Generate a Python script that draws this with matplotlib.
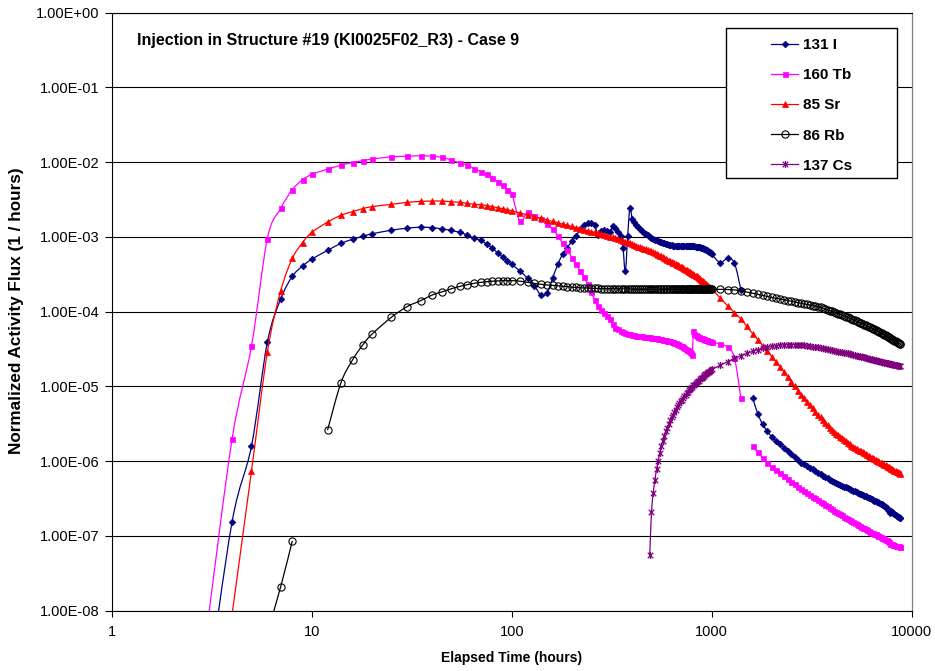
import numpy as np
import matplotlib
matplotlib.use("Agg")
import matplotlib.pyplot as plt
from matplotlib.path import Path
from matplotlib.patches import Rectangle, PathPatch
from matplotlib.lines import Line2D

plt.rcParams["font.family"] = ["Liberation Sans", "DejaVu Sans"]

nan = float("nan")

# Sampling schedule of the transport run (hours)
hours = (list(range(1, 11)) + list(range(12, 21, 2)) + list(range(25, 101, 5))
         + list(range(110, 1001, 10)) + list(range(1100, 8701, 100)) + [8760])

# ---- 131 I -------------------------------------------------------------
i131_early = [nan, nan, 8e-10, 1.55e-7, 1.6e-6, 3.9e-5, 1.48e-4, 2.97e-4, 4.07e-4, 5.04e-4,
              6.6e-4, 8.2e-4, 9.3e-4, 1.02e-3, 1.10e-3,
              1.23e-3, 1.31e-3, 1.35e-3, 1.33e-3, 1.28e-3, 1.22e-3, 1.15e-3, 1.06e-3, 9.6e-4, 9.0e-4,
              8.0e-4, 7.1e-4, 6.1e-4, 5.4e-4, 4.8e-4, 4.3e-4]
i131_mid = [3.5e-4, 2.8e-4, 2.22e-4, 1.67e-4, 1.77e-4, 2.8e-4, 4.3e-4, 5.9e-4, 7.2e-4, 8.85e-4,
            1.03e-3, 1.27e-3, 1.45e-3, 1.52e-3, 1.52e-3, 1.45e-3, 1.06e-3, 1.2e-3, 1.24e-3, 1.2e-3,
            1.17e-3, 1.38e-3, 1.3e-3, 1.15e-3, 1.03e-3, 7.2e-4, 3.46e-4, 1.03e-3, 2.45e-3, 1.76e-3,
            1.58e-3, 1.45e-3, 1.35e-3, 1.27e-3, 1.2e-3, 1.14e-3, 1.09e-3, 1.05e-3, 1.01e-3, 9.8e-4,
            9.5e-4, 9.2e-4, 9.0e-4, 8.8e-4, 8.6e-4, 8.45e-4, 8.3e-4, 8.2e-4, 8.1e-4, 8.0e-4,
            7.9e-4, 7.82e-4, 7.75e-4, 7.68e-4, 7.62e-4, 7.57e-4, 7.53e-4, 7.5e-4, 7.48e-4, 7.47e-4,
            7.47e-4, 7.48e-4, 7.5e-4, 7.52e-4, 7.54e-4, 7.55e-4, 7.56e-4, 7.56e-4, 7.55e-4, 7.53e-4,
            7.5e-4, 7.47e-4, 7.44e-4, 7.4e-4, 7.35e-4, 7.3e-4, 7.25e-4, 7.2e-4, 7.15e-4, 7.1e-4,
            7.0e-4, 6.9e-4, 6.8e-4, 6.7e-4, 6.6e-4, 6.5e-4, 6.35e-4, 6.2e-4, 6.05e-4, 5.9e-4]
i131_late = [4.55e-4, 5.15e-4, 4.45e-4, 1.96e-4, nan, 7.1e-6, 4.3e-6, 3.1e-6, 2.5e-6, 2.11e-6,
             1.88e-6, 1.69e-6, 1.51e-6, 1.37e-6, 1.24e-6, 1.13e-6, 1.04e-6, 9.6e-7, 9.1e-7, 8.6e-7,
             8.15e-7, 7.75e-7, 7.4e-7, 7.0e-7, 6.7e-7, 6.4e-7, 6.15e-7, 5.9e-7, 5.65e-7, 5.4e-7,
             5.24e-7, 5.09e-7, 4.95e-7, 4.81e-7, 4.69e-7, 4.56e-7, 4.45e-7, 4.34e-7, 4.23e-7, 4.13e-7,
             4.03e-7, 3.94e-7, 3.85e-7, 3.77e-7, 3.68e-7, 3.6e-7, 3.53e-7, 3.46e-7, 3.39e-7, 3.32e-7,
             3.24e-7, 3.18e-7, 3.1e-7, 3.04e-7, 2.98e-7, 2.92e-7, 2.86e-7, 2.81e-7, 2.75e-7, 2.7e-7,
             2.64e-7, 2.59e-7, 2.51e-7, 2.43e-7, 2.34e-7, 2.25e-7, 2.15e-7, 2.04e-7, 2.14e-7, 2.07e-7,
             2.0e-7, 1.95e-7, 1.9e-7, 1.86e-7, 1.82e-7, 1.78e-7, 1.75e-7, 1.73e-7]

# ---- 160 Tb ------------------------------------------------------------
tb160_early = [nan, nan, 6e-9, 2.0e-6, 3.46e-5, 9.5e-4, 2.41e-3, 4.28e-3, 5.82e-3, 6.85e-3,
               8.07e-3, 9.1e-3, 9.9e-3, 1.05e-2, 1.10e-2,
               1.18e-2, 1.20e-2, 1.22e-2, 1.20e-2, 1.16e-2, 1.06e-2, 9.8e-3, 9.1e-3, 8.2e-3, 7.5e-3,
               6.9e-3, 6.2e-3, 5.5e-3, 4.9e-3, 4.3e-3, 3.8e-3]
tb160_mid = [1.63e-3, 2.15e-3, 1.9e-3, 1.72e-3, 1.51e-3, 1.27e-3, 1.03e-3, 8.2e-4, 6.65e-4, 5.3e-4,
             4.3e-4, 3.5e-4, 2.9e-4, 2.34e-4, 1.85e-4, 1.45e-4, 1.18e-4, 1.05e-4, 9.6e-5, 8.8e-5,
             7.9e-5, 6.8e-5, 6.1e-5, 5.8e-5, 5.55e-5, 5.35e-5, 5.2e-5, 5.08e-5, 4.98e-5, 4.9e-5,
             4.84e-5, 4.79e-5, 4.74e-5, 4.7e-5, 4.66e-5, 4.62e-5, 4.59e-5, 4.56e-5, 4.53e-5, 4.5e-5,
             4.46e-5, 4.43e-5, 4.39e-5, 4.35e-5, 4.31e-5, 4.27e-5, 4.23e-5, 4.18e-5, 4.14e-5, 4.1e-5,
             4.05e-5, 4.0e-5, 3.95e-5, 3.9e-5, 3.85e-5, 3.8e-5, 3.74e-5, 3.68e-5, 3.6e-5, 3.52e-5,
             3.44e-5, 3.36e-5, 3.28e-5, 3.2e-5, 3.12e-5, 3.04e-5, 2.95e-5, 2.86e-5, 2.76e-5, 2.65e-5,
             5.6e-5, 5.1e-5, 4.85e-5, 4.7e-5, 4.6e-5, 4.52e-5, 4.46e-5, 4.42e-5, 4.38e-5, 4.34e-5,
             4.3e-5, 4.26e-5, 4.22e-5, 4.18e-5, 4.14e-5, 4.1e-5, 4.06e-5, 4.02e-5, 3.98e-5, 3.94e-5]
tb160_late = [3.7e-5, 3.35e-5, 2.4e-5, 6.9e-6, nan, 1.58e-6, 1.31e-6, 1.11e-6, 9.5e-7, 8.4e-7,
              7.64e-7, 6.95e-7, 6.34e-7, 5.8e-7, 5.33e-7, 4.91e-7, 4.54e-7, 4.23e-7, 3.98e-7, 3.76e-7,
              3.55e-7, 3.37e-7, 3.19e-7, 3.03e-7, 2.88e-7, 2.74e-7, 2.62e-7, 2.5e-7, 2.39e-7, 2.28e-7,
              2.19e-7, 2.1e-7, 2.03e-7, 1.95e-7, 1.88e-7, 1.82e-7, 1.76e-7, 1.7e-7, 1.64e-7, 1.59e-7,
              1.54e-7, 1.5e-7, 1.45e-7, 1.41e-7, 1.36e-7, 1.33e-7, 1.29e-7, 1.26e-7, 1.22e-7, 1.19e-7,
              1.16e-7, 1.14e-7, 1.11e-7, 1.09e-7, 1.07e-7, 1.05e-7, 1.03e-7, 1.01e-7, 9.9e-8, 9.7e-8,
              9.5e-8, 9.3e-8, 9.1e-8, 8.9e-8, 8.7e-8, 8.5e-8, 8.2e-8, 7.9e-8, 7.8e-8, 7.7e-8,
              7.6e-8, 7.5e-8, 7.4e-8, 7.35e-8, 7.3e-8, 7.26e-8, 7.2e-8, 7.16e-8]

# ---- 85 Sr -------------------------------------------------------------
sr85_early = [nan, nan, nan, 9e-9, 7.4e-7, 2.87e-5, 1.9e-4, 5.15e-4, 8.4e-4, 1.15e-3,
              1.58e-3, 1.95e-3, 2.18e-3, 2.39e-3, 2.54e-3,
              2.73e-3, 2.9e-3, 2.99e-3, 3.02e-3, 3.02e-3, 2.96e-3, 2.9e-3, 2.81e-3, 2.73e-3, 2.7e-3,
              2.62e-3, 2.54e-3, 2.46e-3, 2.39e-3, 2.31e-3, 2.24e-3]
sr85_mid = [2.09e-3, 1.97e-3, 1.86e-3, 1.77e-3, 1.69e-3, 1.61e-3, 1.55e-3, 1.48e-3, 1.43e-3, 1.38e-3,
            1.33e-3, 1.29e-3, 1.25e-3, 1.21e-3, 1.18e-3, 1.15e-3, 1.12e-3, 1.09e-3, 1.06e-3, 1.04e-3,
            1.01e-3, 9.9e-4, 9.7e-4, 9.4e-4, 9.15e-4, 8.9e-4, 8.65e-4, 8.43e-4, 8.2e-4, 8.0e-4,
            7.8e-4, 7.62e-4, 7.45e-4, 7.28e-4, 7.11e-4, 6.96e-4, 6.81e-4, 6.67e-4, 6.53e-4, 6.4e-4,
            6.24e-4, 6.07e-4, 5.92e-4, 5.78e-4, 5.64e-4, 5.51e-4, 5.37e-4, 5.24e-4, 5.1e-4, 4.97e-4,
            4.84e-4, 4.74e-4, 4.64e-4, 4.54e-4, 4.45e-4, 4.36e-4, 4.27e-4, 4.18e-4, 4.1e-4, 4.01e-4,
            3.92e-4, 3.83e-4, 3.74e-4, 3.66e-4, 3.57e-4, 3.5e-4, 3.43e-4, 3.35e-4, 3.28e-4, 3.21e-4,
            3.15e-4, 3.08e-4, 3.03e-4, 2.96e-4, 2.89e-4, 2.82e-4, 2.75e-4, 2.68e-4, 2.61e-4, 2.55e-4,
            2.49e-4, 2.43e-4, 2.37e-4, 2.32e-4, 2.26e-4, 2.21e-4, 2.16e-4, 2.11e-4, 2.07e-4, 2.02e-4]
sr85_late = [1.54e-4, 1.2e-4, 9.7e-5, 8.0e-5, 6.35e-5, 5.1e-5, 4.23e-5, 3.52e-5, 2.97e-5, 2.5e-5,
             2.12e-5, 1.82e-5, 1.56e-5, 1.34e-5, 1.16e-5, 1.01e-5, 8.8e-6, 7.76e-6, 6.95e-6, 6.24e-6,
             5.62e-6, 5.09e-6, 4.61e-6, 4.2e-6, 3.86e-6, 3.56e-6, 3.28e-6, 3.03e-6, 2.81e-6, 2.61e-6,
             2.45e-6, 2.33e-6, 2.22e-6, 2.12e-6, 2.02e-6, 1.93e-6, 1.84e-6, 1.77e-6, 1.69e-6, 1.62e-6,
             1.57e-6, 1.52e-6, 1.47e-6, 1.43e-6, 1.39e-6, 1.35e-6, 1.31e-6, 1.27e-6, 1.24e-6, 1.2e-6,
             1.17e-6, 1.14e-6, 1.12e-6, 1.09e-6, 1.07e-6, 1.04e-6, 1.02e-6, 9.96e-7, 9.75e-7, 9.53e-7,
             9.33e-7, 9.14e-7, 8.95e-7, 8.77e-7, 8.59e-7, 8.41e-7, 8.26e-7, 8.09e-7, 7.94e-7, 7.8e-7,
             7.64e-7, 7.5e-7, 7.36e-7, 7.24e-7, 7.11e-7, 6.98e-7, 6.87e-7, 6.79e-7]

# ---- 86 Rb -------------------------------------------------------------
rb86_early = [nan, nan, nan, nan, nan, 5e-9, 2.1e-8, 8.6e-8, nan, nan,
              2.6e-6, 1.12e-5, 2.26e-5, 3.6e-5, 5.0e-5,
              8.4e-5, 1.17e-4, 1.4e-4, 1.67e-4, 1.85e-4, 2.03e-4, 2.18e-4, 2.3e-4, 2.4e-4, 2.47e-4,
              2.52e-4, 2.56e-4, 2.58e-4, 2.6e-4, 2.6e-4, 2.6e-4]
rb86_mid = [2.56e-4, 2.47e-4, 2.39e-4, 2.33e-4, 2.28e-4, 2.25e-4, 2.22e-4, 2.19e-4, 2.16e-4, 2.13e-4,
            2.11e-4, 2.09e-4, 2.08e-4, 2.07e-4, 2.06e-4, 2.05e-4, 2.05e-4, 2.04e-4, 2.04e-4, 2.04e-4,
            2.03e-4, 2.03e-4, 2.03e-4, 2.02e-4, 2.02e-4, 2.02e-4, 2.02e-4, 2.01e-4, 2.01e-4, 2.01e-4,
            2.01e-4, 2.0e-4, 2.0e-4, 2.0e-4, 2.0e-4, 2.0e-4, 2.0e-4, 2.0e-4, 2.0e-4, 2.0e-4,
            2.0e-4, 2.0e-4, 2.0e-4, 2.0e-4, 2.0e-4, 2.0e-4, 2.0e-4, 2.0e-4, 2.0e-4, 2.0e-4,
            2.0e-4, 2.0e-4, 2.0e-4, 2.0e-4, 2.0e-4, 2.0e-4, 2.0e-4, 2.0e-4, 2.0e-4, 2.0e-4,
            1.99e-4, 1.99e-4, 1.99e-4, 1.99e-4, 1.99e-4, 1.99e-4, 1.99e-4, 1.99e-4, 1.99e-4, 1.99e-4,
            1.99e-4, 1.99e-4, 1.99e-4, 1.99e-4, 1.99e-4, 1.99e-4, 1.99e-4, 1.99e-4, 1.99e-4, 1.99e-4,
            1.99e-4, 1.99e-4, 1.99e-4, 1.99e-4, 1.99e-4, 1.99e-4, 1.99e-4, 1.99e-4, 1.99e-4, 1.99e-4]
rb86_late = [1.99e-4, 1.98e-4, 1.96e-4, 1.89e-4, 1.83e-4, 1.77e-4, 1.71e-4, 1.65e-4, 1.6e-4, 1.55e-4,
             1.51e-4, 1.48e-4, 1.44e-4, 1.41e-4, 1.38e-4, 1.35e-4, 1.32e-4, 1.3e-4, 1.27e-4, 1.25e-4,
             1.23e-4, 1.21e-4, 1.19e-4, 1.17e-4, 1.14e-4, 1.11e-4, 1.08e-4, 1.06e-4, 1.03e-4, 1.01e-4,
             9.9e-5, 9.6e-5, 9.4e-5, 9.2e-5, 8.97e-5, 8.77e-5, 8.57e-5, 8.38e-5, 8.2e-5, 8.02e-5,
             7.83e-5, 7.66e-5, 7.48e-5, 7.31e-5, 7.15e-5, 7.0e-5, 6.85e-5, 6.71e-5, 6.58e-5, 6.44e-5,
             6.31e-5, 6.17e-5, 6.04e-5, 5.92e-5, 5.79e-5, 5.68e-5, 5.56e-5, 5.45e-5, 5.35e-5, 5.25e-5,
             5.14e-5, 5.05e-5, 4.94e-5, 4.83e-5, 4.73e-5, 4.63e-5, 4.53e-5, 4.44e-5, 4.35e-5, 4.26e-5,
             4.17e-5, 4.09e-5, 4.01e-5, 3.94e-5, 3.85e-5, 3.78e-5, 3.72e-5, 3.67e-5]

# ---- 137 Cs ------------------------------------------------------------
cs137_early = [nan] * 31
cs137_mid = [nan] * 38 + [
    5.6e-8, 2.09e-7,
    3.72e-7, 5.62e-7, 7.76e-7, 1.02e-6, 1.29e-6, 1.58e-6, 1.88e-6, 2.19e-6, 2.51e-6, 2.82e-6,
    3.16e-6, 3.51e-6, 3.85e-6, 4.19e-6, 4.54e-6, 4.9e-6, 5.25e-6, 5.6e-6, 5.96e-6, 6.31e-6,
    6.67e-6, 7.03e-6, 7.4e-6, 7.76e-6, 8.13e-6, 8.49e-6, 8.85e-6, 9.2e-6, 9.57e-6, 9.93e-6,
    1.03e-5, 1.06e-5, 1.1e-5, 1.14e-5, 1.17e-5, 1.2e-5, 1.24e-5, 1.28e-5, 1.31e-5, 1.35e-5,
    1.38e-5, 1.42e-5, 1.45e-5, 1.48e-5, 1.52e-5, 1.55e-5, 1.58e-5, 1.62e-5, 1.65e-5, 1.69e-5]
cs137_late = [1.91e-5, 2.14e-5, 2.37e-5, 2.58e-5, 2.77e-5, 2.94e-5, 3.09e-5, 3.22e-5, 3.33e-5, 3.43e-5,
              3.51e-5, 3.56e-5, 3.61e-5, 3.63e-5, 3.64e-5, 3.63e-5, 3.61e-5, 3.58e-5, 3.55e-5, 3.51e-5,
              3.46e-5, 3.41e-5, 3.37e-5, 3.32e-5, 3.27e-5, 3.22e-5, 3.18e-5, 3.13e-5, 3.08e-5, 3.04e-5,
              3.0e-5, 2.96e-5, 2.92e-5, 2.89e-5, 2.86e-5, 2.82e-5, 2.79e-5, 2.76e-5, 2.73e-5, 2.69e-5,
              2.66e-5, 2.62e-5, 2.59e-5, 2.56e-5, 2.52e-5, 2.49e-5, 2.47e-5, 2.44e-5, 2.41e-5, 2.38e-5,
              2.36e-5, 2.33e-5, 2.31e-5, 2.29e-5, 2.26e-5, 2.24e-5, 2.22e-5, 2.2e-5, 2.17e-5, 2.15e-5,
              2.13e-5, 2.11e-5, 2.09e-5, 2.07e-5, 2.06e-5, 2.04e-5, 2.02e-5, 2.0e-5, 1.99e-5, 1.97e-5,
              1.95e-5, 1.94e-5, 1.92e-5, 1.91e-5, 1.9e-5, 1.88e-5, 1.87e-5, 1.86e-5]

labels = ["131 I", "160 Tb", "85 Sr", "86 Rb", "137 Cs"]
series = [i131_early + i131_mid + i131_late,
          tb160_early + tb160_mid + tb160_late,
          sr85_early + sr85_mid + sr85_late,
          rb86_early + rb86_mid + rb86_late,
          cs137_early + cs137_mid + cs137_late]
for name, s in zip(labels, series):
    assert len(s) == len(hours), (name, len(s), len(hours))

# Asterisk-style marker: an X with a vertical bar through it
star = Path([(-1, -1), (1, 1), (-1, 1), (1, -1), (0, -1.25), (0, 1.25)],
            [Path.MOVETO, Path.LINETO] * 3)

colors = ["#000080", "#FF00FF", "#FF0000", "#000000", "#800080"]
marker_styles = [
    dict(marker="D", markersize=3.4, markerfacecolor=colors[0], markeredgecolor=colors[0],
         markeredgewidth=0.5),
    dict(marker="s", markersize=3.6, markerfacecolor=colors[1], markeredgecolor=colors[1],
         markeredgewidth=0.5),
    dict(marker="^", markersize=4.4, markerfacecolor=colors[2], markeredgecolor=colors[2],
         markeredgewidth=0.5),
    dict(marker="o", markersize=5.2, markerfacecolor="none", markeredgecolor=colors[3],
         markeredgewidth=0.8),
    dict(marker=star, markersize=5.0, markerfacecolor="none", markeredgecolor=colors[4],
         markeredgewidth=0.9),
]
LW = 0.9


def smoothed_path(x, y):
    """Smoothed connecting line (cardinal-spline Bezier in log-log space),
    split at missing samples."""
    lx, ly = np.log10(x), np.log10(y)
    ok = np.isfinite(ly)
    verts, codes = [], []
    i, n = 0, len(lx)
    while i < n:
        if not ok[i]:
            i += 1
            continue
        j = i
        while j + 1 < n and ok[j + 1]:
            j += 1
        P = np.column_stack([lx[i:j + 1], ly[i:j + 1]])
        m = len(P)
        verts.append(P[0])
        codes.append(Path.MOVETO)
        for k in range(m - 1):
            p0 = P[k - 1] if k > 0 else P[k]
            p1, p2 = P[k], P[k + 1]
            p3 = P[k + 2] if k + 2 < m else P[k + 1]
            verts += [p1 + (p2 - p0) / 6.0, p2 - (p3 - p1) / 6.0, p2]
            codes += [Path.CURVE4] * 3
        i = j + 1
    verts = 10.0 ** np.array(verts)
    return Path(verts, codes)


W, H = 935, 671
fig = plt.figure(figsize=(W / 100, H / 100), dpi=100)
x0, x1, y0, y1 = 111.7, 911.7, 12.7, 610.7
ax = fig.add_axes([x0 / W, 1 - y1 / H, (x1 - x0) / W, (y1 - y0) / H])
ax.set_xscale("log")
ax.set_yscale("log")
ax.set_xlim(1, 10000)
ax.set_ylim(1e-8, 1)

t = np.array(hours, dtype=float)
handles = []
for z, (name, vals, col, ms) in enumerate(zip(labels, series, colors, marker_styles)):
    v = np.array(vals, dtype=float)
    ax.add_patch(PathPatch(smoothed_path(t, v), facecolor="none", edgecolor=col,
                           linewidth=LW, zorder=2 + z))
    ax.plot(t, v, linestyle="none", zorder=2 + z, **ms)
    handles.append(Line2D([], [], color=col, linewidth=LW, **ms))

xt = [1, 10, 100, 1000, 10000]
ax.set_xticks(xt)
ax.set_xticklabels([str(v) for v in xt])
yt = [10.0 ** k for k in range(-8, 1)]
ax.set_yticks(yt)
ax.set_yticklabels([f"{v:.2E}" for v in yt])
ax.minorticks_off()

ax.tick_params(axis="both", which="major", labelsize=10.5, colors="black", width=0.8)
ax.tick_params(axis="y", direction="out", length=5, pad=4)
ax.tick_params(axis="x", direction="out", length=4, pad=6)

ax.yaxis.grid(True, color="black", linewidth=0.8)
ax.set_axisbelow(True)
for side in ("left", "bottom", "top"):
    ax.spines[side].set_color("black")
    ax.spines[side].set_linewidth(0.8)
ax.spines["right"].set_color("#808080")
ax.spines["right"].set_linewidth(0.9)

# Legend frame
bx0 = (726 - x0) / (x1 - x0)
bx1 = (897 - x0) / (x1 - x0)
by1 = 1 - (28 - y0) / (y1 - y0)
by0 = 1 - (178 - y0) / (y1 - y0)
ax.add_patch(Rectangle((bx0, by0), bx1 - bx0, by1 - by0, transform=ax.transAxes,
                       facecolor="white", edgecolor="black", linewidth=1.0,
                       zorder=10, clip_on=False))
leg = ax.legend(handles, labels, loc="upper left",
                bbox_to_anchor=((771 - x0) / (x1 - x0), 1 - (38 - y0) / (y1 - y0)),
                frameon=False, numpoints=1, handlelength=1.77, handletextpad=0.35,
                labelspacing=1.06, borderpad=0, borderaxespad=0,
                prop=dict(weight="bold", size=11))
leg.set_zorder(11)

fig.text(137 / W, 1 - 40 / H, "Injection in Structure #19 (KI0025F02_R3) - Case 9",
         ha="left", va="center", fontsize=11.5, fontweight="bold")
fig.text(512 / W, 1 - 658 / H, "Elapsed Time (hours)", ha="center", va="center",
         fontsize=10, fontweight="bold")
fig.text(17 / W, 1 - 311 / H, "Normalized Activity Flux (1 / hours)", ha="center",
         va="center", rotation=90, fontsize=12.3, fontweight="bold")

fig.savefig("out.png", dpi=100, facecolor="white")
